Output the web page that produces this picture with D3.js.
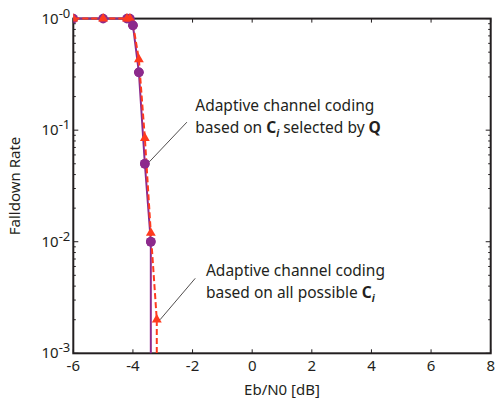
<!DOCTYPE html>
<html><head><meta charset="utf-8">
<script src="https://cdn.jsdelivr.net/npm/d3@7"></script>
<style>
body{margin:0;background:#fff;}
svg text{font-family:"Noto Sans","Open Sans",sans-serif;fill:#231f20;}
</style></head>
<body><svg id="c" width="495" height="401"></svg>
<script>
// ---- data ----
const selX = [-6, -5, -4.2, -4.1, -4.0, -3.8, -3.6, -3.4, -3.4];
const selY = [1, 1, 1, 1, 0.87, 0.33, 0.05, 0.01, 1e-5];
const allX = [-6, -5, -4.2, -4.1, -4.0, -3.8, -3.6, -3.4, -3.2, -3.2];
const allY = [1, 1, 1, 1, 0.9, 0.43, 0.085, 0.012, 0.002, 1e-5];
const selMarkN = 8;   // markers drawn for first 8 points
const allMarkN = 9;
const xTicks = [-6, -4, -2, 0, 2, 4, 6, 8];
const yTicks = [1, 0.1, 0.01, 0.001];
const yTickExp = ["-0", "-1", "-2", "-3"];
const xLabel = "Eb/N0 [dB]";
const yLabel = "Falldown Rate";

const svg = d3.select("#c");
const L = 73.3, R = 490.7, T = 18.6, B = 353.3;
const x = d3.scaleLinear().domain([-6, 8]).range([L, R]);
const y = d3.scaleLog().domain([1e-3, 1]).range([B, T]);

svg.append("clipPath").attr("id","clip").append("rect")
  .attr("x", L).attr("y", T - 10).attr("width", R - L).attr("height", B - T + 10);

const purple = "#8c2a8c", red = "#ff3a1e", ax = "#231f20";

const minor = [];
[1e-3, 1e-2, 1e-1].forEach(d => { for (let k = 2; k <= 9; k++) minor.push(d * k); });

const g = svg.append("g");
g.selectAll(".mxl").data(minor).join("line")
  .attr("x1", L).attr("x2", L + 2.5).attr("y1", d => y(d)).attr("y2", d => y(d))
  .attr("stroke", ax).attr("stroke-width", 1);
g.selectAll(".mxr").data(minor).join("line")
  .attr("x1", R).attr("x2", R - 2.5).attr("y1", d => y(d)).attr("y2", d => y(d))
  .attr("stroke", ax).attr("stroke-width", 1);
g.selectAll(".Myl").data(yTicks).join("line")
  .attr("x1", L).attr("x2", L + 5).attr("y1", d => y(d)).attr("y2", d => y(d))
  .attr("stroke", ax).attr("stroke-width", 1);
g.selectAll(".Myr").data(yTicks).join("line")
  .attr("x1", R).attr("x2", R - 5).attr("y1", d => y(d)).attr("y2", d => y(d))
  .attr("stroke", ax).attr("stroke-width", 1);
g.selectAll(".xb").data(xTicks).join("line")
  .attr("x1", d => x(d)).attr("x2", d => x(d)).attr("y1", B).attr("y2", B - 4)
  .attr("stroke", ax).attr("stroke-width", 1);
g.selectAll(".xt").data(xTicks).join("line")
  .attr("x1", d => x(d)).attr("x2", d => x(d)).attr("y1", T).attr("y2", T + 4)
  .attr("stroke", ax).attr("stroke-width", 1);

g.append("rect").attr("x", L).attr("y", T).attr("width", R - L).attr("height", B - T)
  .attr("fill", "none").attr("stroke", ax).attr("stroke-width", 2);

g.selectAll(".xl").data(xTicks).join("text")
  .attr("x", d => x(d)).attr("y", B + 18).attr("text-anchor", "middle")
  .attr("font-size", 15).text(d => d < 0 ? "-" + Math.abs(d) : d);
const yl = g.selectAll(".yl").data(yTicks).join("text")
  .attr("x", L - 3).attr("y", d => y(d) + 5).attr("text-anchor", "end")
  .attr("font-size", 15);
yl.append("tspan").text("10");
yl.append("tspan").attr("dy", -6).attr("font-size", 13).text((d, i) => yTickExp[i]);

svg.append("text").attr("x", (L + R) / 2).attr("y", 395).attr("text-anchor", "middle")
  .attr("font-size", 15).text(xLabel);
svg.append("text").attr("transform", `translate(20,${(T + B) / 2}) rotate(-90)`)
  .attr("text-anchor", "middle").attr("font-size", 15).text(yLabel);

const pts = (xs, ys) => xs.map((v, i) => [v, ys[i]]);
const line = d3.line().x(d => x(d[0])).y(d => y(d[1]));
const plot = svg.append("g").attr("clip-path", "url(#clip)");
const sel = pts(selX, selY), all = pts(allX, allY);

plot.append("path").attr("d", line(sel)).attr("fill", "none")
  .attr("stroke", purple).attr("stroke-width", 2);
plot.selectAll(".c").data(sel.slice(0, selMarkN)).join("circle")
  .attr("cx", d => x(d[0])).attr("cy", d => y(d[1])).attr("r", 4.8).attr("fill", purple);
plot.append("path").attr("d", line(all)).attr("fill", "none")
  .attr("stroke", red).attr("stroke-width", 2).attr("stroke-dasharray", "6,3");
const tri = d3.symbol().type(d3.symbolTriangle).size(42);
plot.selectAll(".t").data(all.slice(0, allMarkN)).join("path")
  .attr("d", tri).attr("transform", d => `translate(${x(d[0])},${y(d[1])})`)
  .attr("fill", red);
plot.selectAll(".c2").data(sel.slice(0, selMarkN).filter(d => d[1] < 1)).join("circle")
  .attr("cx", d => x(d[0])).attr("cy", d => y(d[1])).attr("r", 4.8).attr("fill", purple);

const ann = [
  { from: [-2.19, 0.118], to: [-3.45, 0.052], tx: -1.91, ty: [0.148, 0.094],
    l1: "Adaptive channel coding", l2: ["based on ", "C", "i", " selected by ", "Q"] },
  { from: [-1.91, 0.0047], to: [-3.09, 0.002], tx: -1.55, ty: [0.0049, 0.0031],
    l1: "Adaptive channel coding", l2: ["based on all possible ", "C", "i"] }
];
ann.forEach(a => {
  svg.append("line").attr("x1", x(a.from[0])).attr("y1", y(a.from[1]))
    .attr("x2", x(a.to[0])).attr("y2", y(a.to[1])).attr("stroke", ax).attr("stroke-width", 0.8);
  svg.append("text").attr("x", x(a.tx)).attr("y", y(a.ty[0])).attr("font-size", 15.5).text(a.l1);
  const t = svg.append("text").attr("x", x(a.tx)).attr("y", y(a.ty[1])).attr("font-size", 15.5);
  a.l2.forEach((s, i) => {
    const sp = t.append("tspan").text(s);
    if (s === "C" || s === "Q") sp.attr("font-weight", "bold");
    if (s === "i") sp.attr("font-style", "italic").attr("font-weight", "bold")
      .attr("font-size", 10).attr("dy", 4);
    if (i > 0 && a.l2[i - 1] === "i") sp.attr("dy", -4);
  });
});
</script></body></html>
